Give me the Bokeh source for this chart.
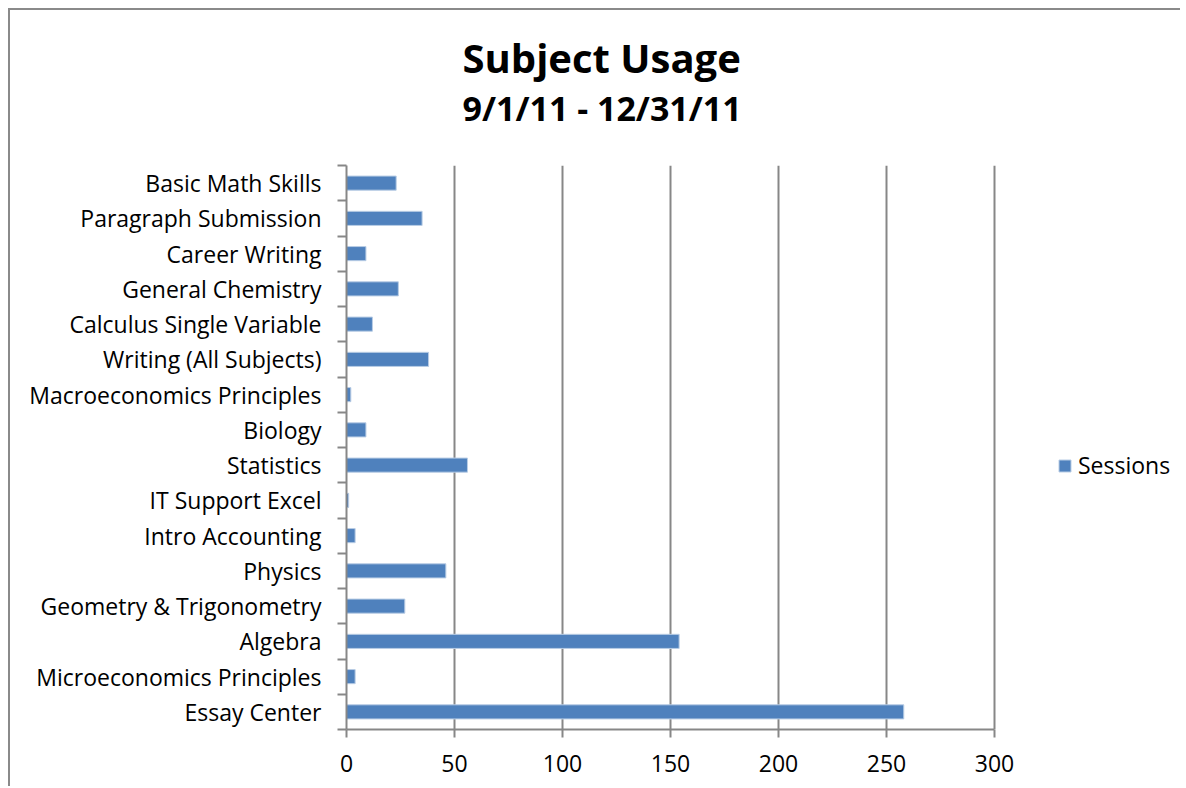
from bokeh.plotting import figure
from bokeh.models import FixedTicker, Legend, LegendItem, Title, ColumnDataSource, Range1d
from bokeh.embed import file_html
from bokeh.resources import INLINE

# ---- data (bottom to top, as drawn) ----
categories = [
    "Essay Center",
    "Microeconomics Principles",
    "Algebra",
    "Geometry & Trigonometry",
    "Physics",
    "Intro Accounting",
    "IT Support Excel",
    "Statistics",
    "Biology",
    "Macroeconomics Principles",
    "Writing (All Subjects)",
    "Calculus Single Variable",
    "General Chemistry",
    "Career Writing",
    "Paragraph Submission",
    "Basic Math Skills",
]
sessions = [258, 4, 154, 27, 46, 4, 1, 56, 9, 2, 38, 12, 24, 9, 35, 23]
x_ticks = [0, 50, 100, 150, 200, 250, 300]
title_text = "Subject Usage"
subtitle_text = "9/1/11 - 12/31/11"
series_name = "Sessions"

FONT = "Open Sans"
GRAY = "#878787"
BLUE = "#4F81BD"

# layout (pixels)
W, H = 1176, 778
LEFT, TOP, BOTTOM = 336, 155, 59
AXIS_PX = 648                      # pixel length of the 0..300 axis
frame_px = W - LEFT                # frame runs to the right edge; legend sits in it
x_end = x_ticks[-1] * frame_px / AXIS_PX

n = len(categories)
centers = [i + 0.5 for i in range(n)]
boundaries = list(range(n + 1))
src = ColumnDataSource(dict(y=centers, v=sessions, cat=categories))

p = figure(width=W, height=H, output_backend="svg", toolbar_location=None,
           title=None,
           x_range=Range1d(x_ticks[0], x_end), y_range=Range1d(0, n),
           min_border_left=LEFT, min_border_right=0,
           min_border_top=TOP, min_border_bottom=BOTTOM)
p.outline_line_color = None
p.background_fill_color = "white"
p.border_fill_color = "white"
p.styles = {"margin-left": "8px", "margin-top": "8px",
            "border-style": "solid none none solid",
            "border-width": "2px 0px 0px 2px",
            "border-color": "#8a8a8a",
            "clip-path": "inset(0px 4px 0px 0px)"}

r = p.hbar(y="y", right="v", left=0, height=0.4, source=src,
           fill_color=BLUE, line_color="#B9CDE5", line_width=1)

# x axis
p.xaxis.ticker = FixedTicker(ticks=x_ticks)
p.xaxis.bounds = (x_ticks[0], x_ticks[-1])
p.xaxis.axis_line_color = GRAY
p.xaxis.axis_line_width = 2
p.xaxis.major_tick_line_color = GRAY
p.xaxis.major_tick_line_width = 2
p.xaxis.major_tick_out = 8
p.xaxis.major_tick_in = 0
p.xaxis.minor_tick_line_color = None
p.xaxis.major_label_text_font = FONT
p.xaxis.major_label_text_font_size = "23px"
p.xaxis.major_label_text_color = "black"
p.xaxis.major_label_standoff = 17

# y axis: labels at centres, ticks at boundaries
p.yaxis.ticker = FixedTicker(ticks=centers, minor_ticks=boundaries)
p.yaxis.major_label_overrides = {c: lab for c, lab in zip(centers, categories)}
p.yaxis.axis_line_color = GRAY
p.yaxis.axis_line_width = 2
p.yaxis.major_tick_line_color = None
p.yaxis.major_tick_out = 0
p.yaxis.major_tick_in = 0
p.yaxis.minor_tick_line_color = GRAY
p.yaxis.minor_tick_line_width = 2
p.yaxis.minor_tick_out = 9
p.yaxis.minor_tick_in = 0
p.yaxis.major_label_text_font = FONT
p.yaxis.major_label_text_font_size = "23px"
p.yaxis.major_label_text_color = "black"
p.yaxis.major_label_standoff = 16

p.xgrid.ticker = FixedTicker(ticks=x_ticks[1:])
p.xgrid.grid_line_color = GRAY
p.xgrid.grid_line_width = 2
p.ygrid.grid_line_color = None

# titles (stacked outward from the plot frame)
sub = Title(text=subtitle_text, align="left", offset=116, text_font=FONT,
            text_font_style="bold", text_font_size="34px", text_color="black",
            standoff=70)
p.add_layout(sub, "above")
main = Title(text=title_text, align="left", offset=116, text_font=FONT,
             text_font_style="bold", text_font_size="40px", text_color="black",
             standoff=-74)
p.add_layout(main, "above")

# legend (inside the widened frame, right of the 0..300 axis)
legend = Legend(items=[LegendItem(label=series_name, renderers=[r])],
                location=(711, 248), orientation="vertical",
                glyph_width=15, glyph_height=15, label_standoff=6,
                padding=0, margin=0, spacing=0,
                border_line_color=None, background_fill_alpha=0,
                label_text_font=FONT, label_text_font_size="23px",
                label_text_color="black")
p.add_layout(legend)

open("out.html", "w").write(file_html(p, INLINE))
